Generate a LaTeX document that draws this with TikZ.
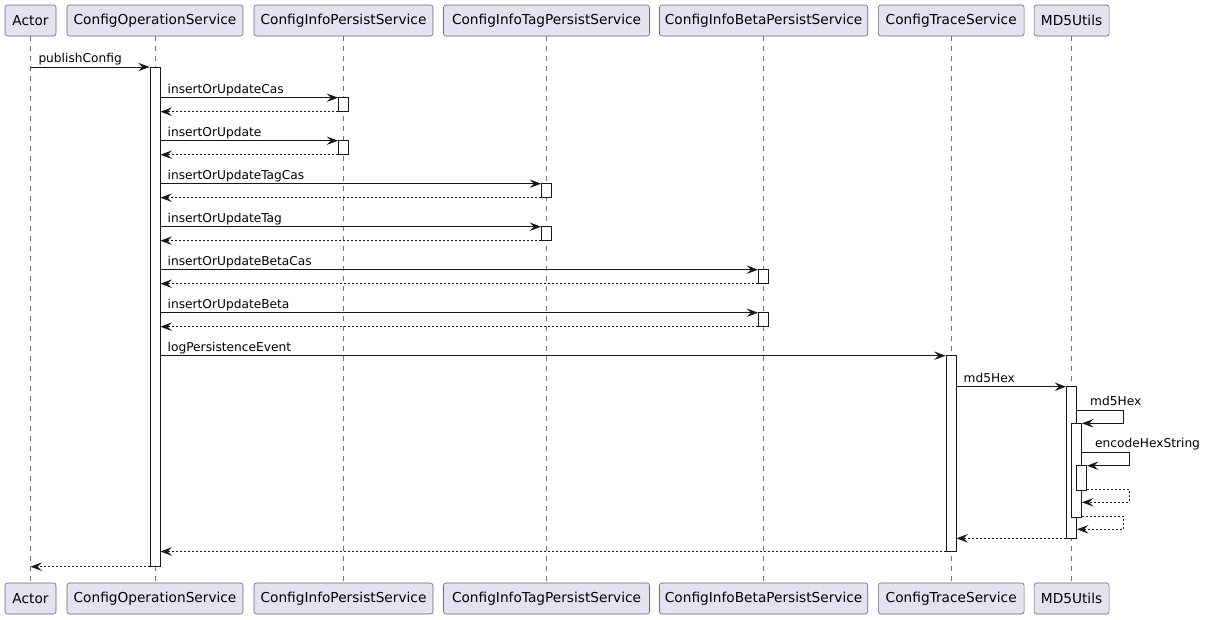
\documentclass[tikz,border=0pt]{standalone}
\usepackage{fontspec}
\setmainfont{DejaVu Sans}
\usetikzlibrary{arrows.meta,fit}
\definecolor{partfill}{HTML}{E2E2F0}
\definecolor{linec}{HTML}{181818}
\begin{document}
\begin{tikzpicture}[x=1pt,y=-1pt,
  part/.style={draw=linec!65, fill=partfill, rounded corners=2.5pt, line width=0.6pt,
    minimum height=31pt, inner sep=0pt, font=\fontsize{13.7}{16}\selectfont, text=black},
  life/.style={draw=linec!60, line width=0.6pt, dash pattern=on 5pt off 5pt},
  act/.style={draw=linec, fill=white, line width=0.9pt, inner sep=0pt},
  msg/.style={draw=linec, line width=0.9pt, -{Stealth[length=11.5pt,width=8.5pt,inset=4.5pt]}},
  ret/.style={msg, dash pattern=on 2pt off 2pt},
  lbl/.style={anchor=base west, inner sep=0pt, font=\fontsize{12.2}{14}\selectfont, text=black}]
\useasboundingbox (0,0) rectangle (1206,619);

% participants (top / bottom)
\node[part, minimum width=51pt]    (pA)  at (30.5,20.5)  {Actor};
\node[part, minimum width=176pt]   (pO)  at (155,20.5)   {ConfigOperationService};
\node[part, minimum width=179pt]   (pP)  at (343.5,20.5) {ConfigInfoPersistService};
\node[part, minimum width=206pt]   (pT)  at (546.5,20.5) {ConfigInfoTagPersistService};
\node[part, minimum width=208.3pt] (pB)  at (763.6,20.5) {ConfigInfoBetaPersistService};
\node[part, minimum width=145.7pt] (pR)  at (951.2,20.5) {ConfigTraceService};
\node[part, minimum width=75pt]    (pM)  at (1071.6,20.5) {MD5Utils};

\node[part, minimum width=51pt]    (qA)  at (30.5,598.5)  {Actor};
\node[part, minimum width=176pt]   (qO)  at (155,598.5)   {ConfigOperationService};
\node[part, minimum width=179pt]   (qP)  at (343.5,598.5) {ConfigInfoPersistService};
\node[part, minimum width=206pt]   (qT)  at (546.5,598.5) {ConfigInfoTagPersistService};
\node[part, minimum width=208.3pt] (qB)  at (763.6,598.5) {ConfigInfoBetaPersistService};
\node[part, minimum width=145.7pt] (qR)  at (951.2,598.5) {ConfigTraceService};
\node[part, minimum width=75pt]    (qM)  at (1071.6,598.5) {MD5Utils};

% lifelines
\foreach \a/\b in {pA/qA,pO/qO,pP/qP,pT/qT,pB/qB,pR/qR,pM/qM}
  \draw[life] (\a) -- (\b);

% activations
\node[act, fit={(150,67)(160,566.7)}]        (aO)  {};
\node[act, fit={(338.5,97.7)(348.5,111.7)}]  (aP1) {};
\node[act, fit={(338.5,140.7)(348.5,154.7)}] (aP2) {};
\node[act, fit={(541.5,183.7)(551.5,197.7)}] (aT1) {};
\node[act, fit={(541.5,226.7)(551.5,240.7)}] (aT2) {};
\node[act, fit={(758.5,269.7)(768.5,283.7)}] (aB1) {};
\node[act, fit={(758.5,312.7)(768.5,326.7)}] (aB2) {};
\node[act, fit={(946,355.7)(956,551.5)}]     (aR)  {};
\node[act, fit={(1066.5,386.7)(1076.5,538.3)}] (aM1) {};
\node[act, fit={(1071.5,423.3)(1081.5,517)}]   (aM2) {};
\node[act, fit={(1076.5,465.7)(1086.5,490)}]   (aM3) {};

% messages
\draw[msg] (pA |- 0,67) -- (aO.west |- 0,67);
\node[lbl] (l1) at (38.3,62.5) {publishConfig};

\draw[msg] (aO.east |- 0,97.7) -- (aP1.west |- 0,97.7);
\node[lbl] (l2) at (167.5,93.2) {insertOrUpdateCas};
\draw[ret] (aP1.west |- 0,111.7) -- (aO.east |- 0,111.7);

\draw[msg] (aO.east |- 0,140.7) -- (aP2.west |- 0,140.7);
\node[lbl] (l3) at (167.5,136.2) {insertOrUpdate};
\draw[ret] (aP2.west |- 0,154.7) -- (aO.east |- 0,154.7);

\draw[msg] (aO.east |- 0,183.7) -- (aT1.west |- 0,183.7);
\node[lbl] (l4) at (167.5,179.2) {insertOrUpdateTagCas};
\draw[ret] (aT1.west |- 0,197.7) -- (aO.east |- 0,197.7);

\draw[msg] (aO.east |- 0,226.7) -- (aT2.west |- 0,226.7);
\node[lbl] (l5) at (167.5,222.2) {insertOrUpdateTag};
\draw[ret] (aT2.west |- 0,240.7) -- (aO.east |- 0,240.7);

\draw[msg] (aO.east |- 0,269.7) -- (aB1.west |- 0,269.7);
\node[lbl] (l6) at (167.5,265.2) {insertOrUpdateBetaCas};
\draw[ret] (aB1.west |- 0,283.7) -- (aO.east |- 0,283.7);

\draw[msg] (aO.east |- 0,312.7) -- (aB2.west |- 0,312.7);
\node[lbl] (l7) at (167.5,308.2) {insertOrUpdateBeta};
\draw[ret] (aB2.west |- 0,326.7) -- (aO.east |- 0,326.7);

\draw[msg] (aO.east |- 0,355.7) -- (aR.west |- 0,355.7);
\node[lbl] (l8) at (167.5,351.2) {logPersistenceEvent};

\draw[msg] (aR.east |- 0,386.7) -- (aM1.west |- 0,386.7);
\node[lbl] (l9) at (963.5,382.2) {md5Hex};

\coordinate (s1a) at (1123.3,410.7);
\coordinate (s1b) at (1123.3,423.3);
\draw[msg] (aM1.east |- s1a) -- (s1a) -- (s1b) -- (aM2.east |- s1b);
\node[lbl] (l10) at (1090,405.9) {md5Hex};

\coordinate (s2a) at (1129,452.7);
\coordinate (s2b) at (1129,465.7);
\draw[msg] (aM2.east |- s2a) -- (s2a) -- (s2b) -- (aM3.east |- s2b);
\node[lbl] (l11) at (1095,447.9) {encodeHexString};

\coordinate (r1a) at (1129,489.3);
\coordinate (r1b) at (1129,502.3);
\draw[ret] (aM3.east |- r1a) -- (r1a) -- (r1b) -- (aM2.east |- r1b);

\coordinate (r2a) at (1123.3,516);
\coordinate (r2b) at (1123.3,529.3);
\draw[ret] (aM2.east |- r2a) -- (r2a) -- (r2b) -- (aM1.east |- r2b);

\draw[ret] (aM1.west |- 0,538.3) -- (aR.east |- 0,538.3);
\draw[ret] (aR.west |- 0,551.5) -- (aO.east |- 0,551.5);
\draw[ret] (aO.west |- 0,566.7) -- (pA |- 0,566.7);
\end{tikzpicture}
\end{document}
